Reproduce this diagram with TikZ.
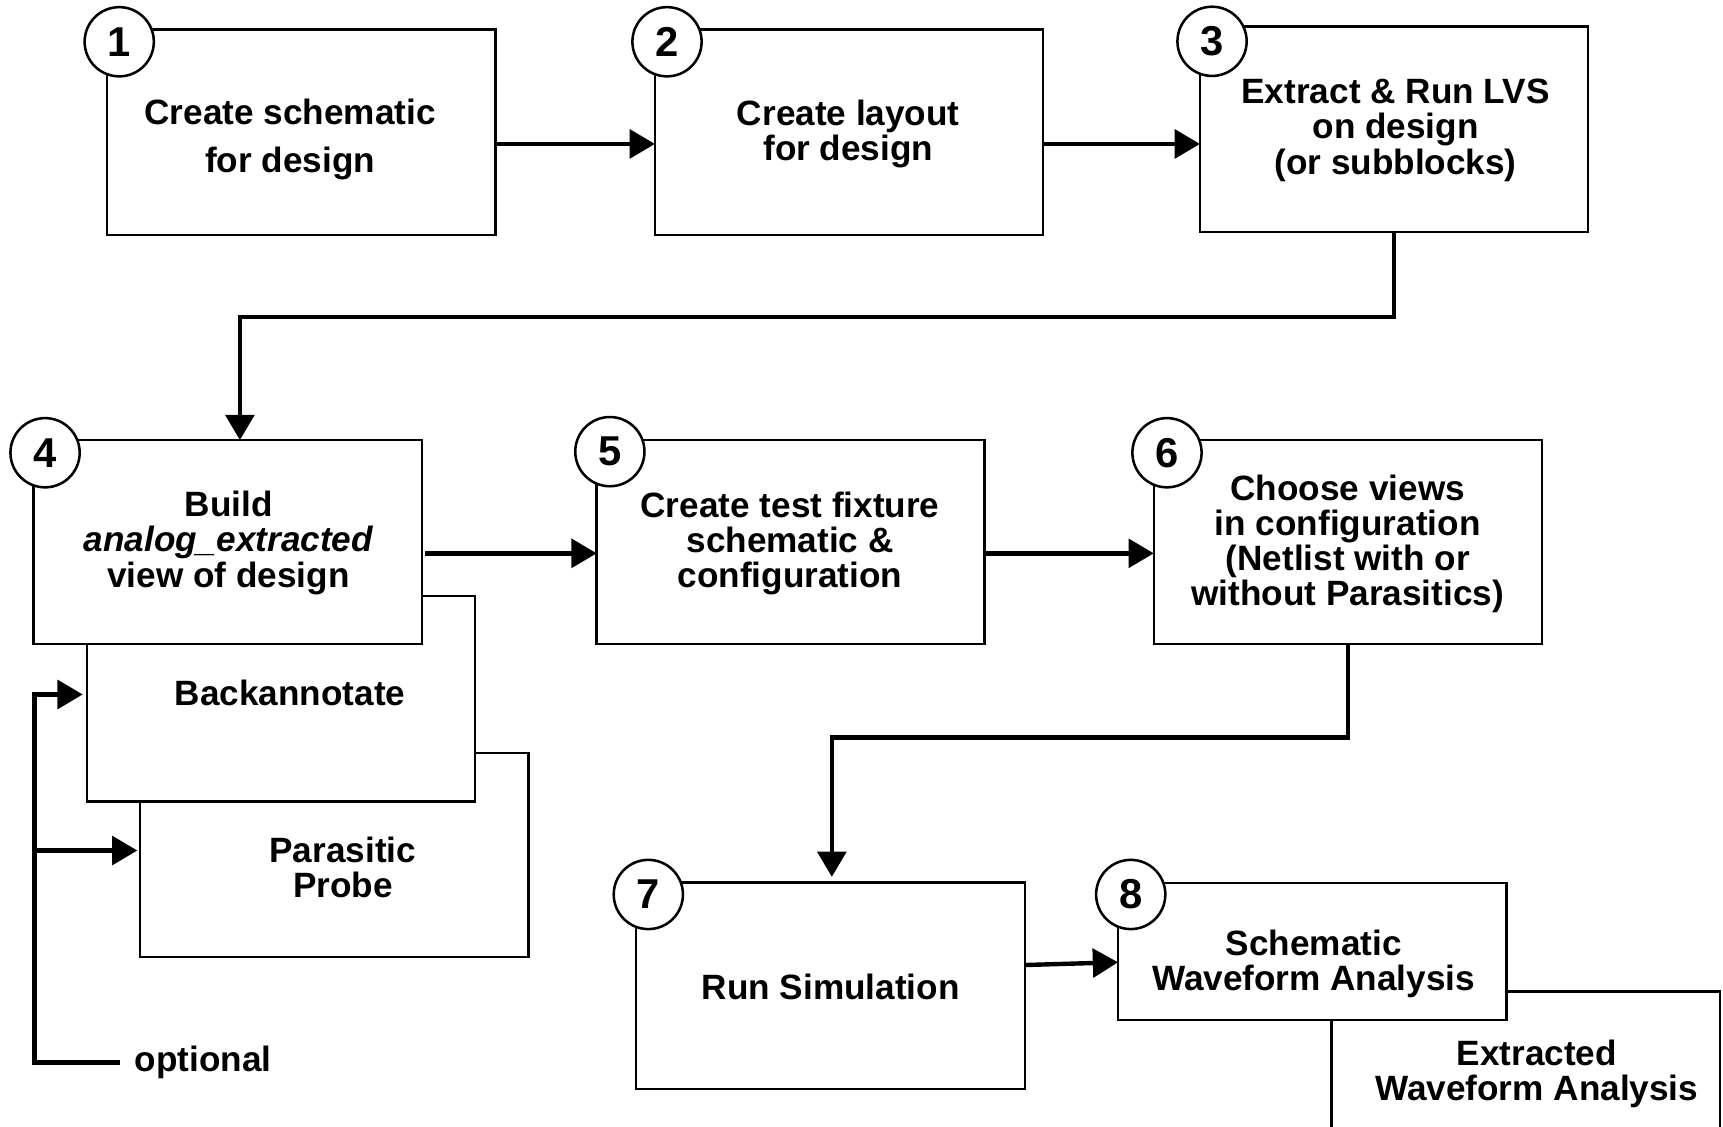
\documentclass[tikz,border=0pt]{standalone}
\usepackage{fontspec}
\setmainfont{Liberation Sans}
\usetikzlibrary{arrows.meta,calc}
\begin{document}
\begin{tikzpicture}[x=1pt,y=-1pt,
  box/.style={draw,line width=2.2pt,fill=white,inner sep=0pt,outer sep=0pt,anchor=north west},
  txt/.style={font=\bfseries\fontsize{32}{32}\selectfont,align=center,inner sep=0pt},
  numcirc/.style={circle,draw,line width=2.3pt,fill=white,minimum size=63pt,inner sep=0pt,
    font=\bfseries\fontsize{38}{38}\selectfont},
  conn/.style={line width=4pt,-{Triangle[length=23pt,width=26pt]}},
]
\clip (0,0) rectangle (1568,1025);
\fill[white] (0,0) rectangle (1568,1025);

% top row
\node[box,minimum width=353.5pt,minimum height=187pt] (b1) at (97.5,27) {};
\node[box,minimum width=353pt,minimum height=187pt] (b2) at (596,27) {};
\node[box,minimum width=353pt,minimum height=187pt] (b3) at (1092,24.3) {};

% middle row, with the stacked optional steps behind step 4
\node[box,minimum width=353.5pt,minimum height=185.5pt] (para) at (127.5,685.5) {};
\node[box,minimum width=353.2pt,minimum height=187pt] (back) at (79.3,542.5) {};
\node[box,minimum width=353.4pt,minimum height=185.5pt] (b4) at (30.6,400.5) {};
\node[box,minimum width=353pt,minimum height=185.5pt] (b5) at (543,400.5) {};
\node[box,minimum width=353pt,minimum height=185.5pt] (b6) at (1050,400.5) {};

% bottom row
\node[box,minimum width=354pt,minimum height=188pt] (b7) at (579,803) {};
\node[box,minimum width=353.3pt,minimum height=125.5pt] (extr) at (1211.7,902.4) {};
\node[box,minimum width=353.5pt,minimum height=124.5pt] (b8) at (1017.5,803.5) {};

% box texts
\node[txt,font=\bfseries\fontsize{32}{44}\selectfont] (t1) at (264,126.7) {Create schematic\\for design};
\node[txt] (t2) at (772,121.9) {Create layout\\for design};
\node[txt] (t3) at (1270,118.5) {Extract \& Run LVS\\on design\\(or subblocks)};
\node[txt] (t4) at (208,494) {Build\\\textit{analog\_extracted}\\view of design};
\node[txt] (tback) at (264,630.2) {Backannotate};
\node[txt] (tpara) at (312,789.2) {Parasitic\\Probe};
\node[txt] (t5) at (719,494.5) {Create test fixture\\schematic \&\\configuration};
\node[txt] (t6) at (1226.5,495) {Choose views\\in configuration\\(Netlist with or\\without Parasitics)};
\node[txt] (t7) at (756,898) {Run Simulation};
\node[txt] (t8) at (1195.5,877.5) {Schematic\\Waveform Analysis};
\node[txt] (textr) at (1398.5,977.5) {Extracted\\Waveform Analysis};
\node[txt] (topt) at (184.7,966.5) {optional};

% step numbers
\node[numcirc] (c1) at (108.5,38) {1};
\node[numcirc] (c2) at (607,38) {2};
\node[numcirc] (c3) at (1103,37.6) {3};
\node[numcirc] (c4) at (41,412) {4};
\node[numcirc] (c5) at (555,411) {5};
\node[numcirc] (c6) at (1062,412) {6};
\node[numcirc] (c7) at (590,814) {7};
\node[numcirc] (c8) at (1029,814) {8};

% flow connectors
\draw[conn] ([yshift=-10.5pt]b1.east) -- ([yshift=-10.5pt]b1.east -| b2.west);
\draw[conn] ([yshift=-10.5pt]b2.east) -- ([yshift=-10.5pt]b2.east -| b3.west);
\draw[conn] (b3.south) -- ++(0,77) -| ([xshift=11pt]b4.north);
\draw[conn] ([xshift=3pt,yshift=-10.3pt]b4.east) -- ([yshift=-10.3pt]b4.east -| b5.west);
\draw[conn] ([yshift=-10.3pt]b5.east) -- ([yshift=-10.3pt]b5.east -| b6.west);
\draw[conn] (b6.south) -- ++(0,85) -| ([xshift=1pt,yshift=5pt]b7.north);
\draw[conn] ($(b7.north east)!0.4!(b7.south east)$) -- ($(b8.north west)!0.58!(b8.south west)$);

% optional bracket
\coordinate (brend) at (109,967);
\coordinate (brbot) at (31.5,967);
\coordinate (brtop) at (31.5,632);
\coordinate (brmid) at (31.5,774);
\draw[conn,shorten >=4pt] (brend) -- (brbot) -- (brtop) -- (brtop -| back.west);
\draw[conn,shorten >=2.5pt] (brmid) -- (brmid -| para.west);
\end{tikzpicture}
\end{document}
